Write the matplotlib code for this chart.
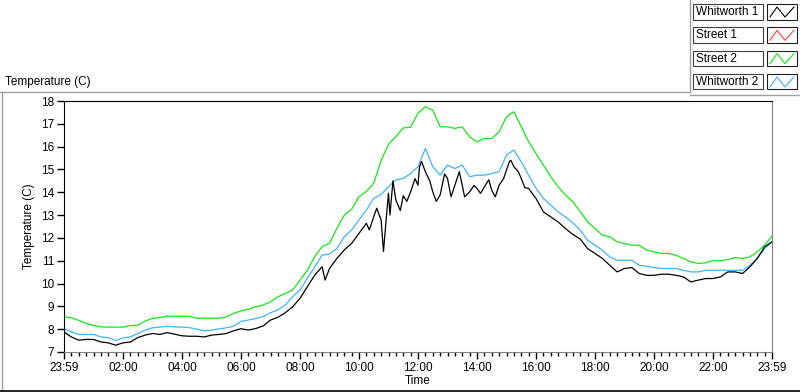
import numpy as np
import matplotlib.pyplot as plt
from matplotlib.patches import Rectangle
from matplotlib.ticker import MultipleLocator

plt.rcParams['font.family'] = ['Liberation Sans', 'DejaVu Sans']

# hours after 23:59, 15 min steps
hours = np.arange(0, 24.01, 0.25)

street2 = [8.54, 8.50, 8.39, 8.25, 8.17, 8.10, 8.09, 8.09, 8.09, 8.16, 8.17, 8.36,
           8.47, 8.51, 8.57, 8.57, 8.57, 8.57, 8.48, 8.48, 8.48, 8.48, 8.54, 8.69,
           8.80, 8.87, 8.98, 9.06, 9.20, 9.42, 9.57, 9.72, 10.15, 10.59, 11.18, 11.62,
           11.76, 12.42, 13.00, 13.25, 13.81, 14.03, 14.40, 15.40, 16.10, 16.44, 16.82, 16.85,
           17.46, 17.75, 17.60, 16.87, 16.87, 16.80, 16.87, 16.43, 16.21, 16.36, 16.36, 16.65,
           17.31, 17.53, 16.87, 16.21, 15.70, 15.19, 14.68, 14.24, 13.88, 13.58, 13.15, 12.70,
           12.41, 12.12, 12.05, 11.83, 11.76, 11.68, 11.68, 11.46, 11.39, 11.32, 11.32, 11.24,
           11.10, 10.95, 10.88, 10.91, 11.00, 11.00, 11.05, 11.14, 11.10, 11.17, 11.39, 11.68,
           12.08]

whitworth2 = [8.03, 7.88, 7.77, 7.77, 7.77, 7.66, 7.63, 7.50, 7.62, 7.66, 7.81, 7.96,
              8.06, 8.09, 8.13, 8.10, 8.09, 8.07, 8.00, 7.93, 7.96, 8.01, 8.06, 8.13,
              8.34, 8.40, 8.47, 8.55, 8.72, 8.84, 9.06, 9.42, 9.72, 10.23, 10.74, 11.25,
              11.29, 11.54, 12.05, 12.35, 12.79, 13.22, 13.74, 13.90, 14.25, 14.54, 14.61, 14.82,
              15.12, 15.92, 15.12, 14.75, 15.19, 15.04, 15.19, 14.68, 14.75, 14.75, 14.82, 14.90,
              15.63, 15.85, 15.34, 14.75, 14.17, 13.73, 13.44, 13.14, 12.92, 12.66, 12.34, 11.90,
              11.68, 11.46, 11.17, 11.02, 11.02, 11.02, 10.80, 10.76, 10.70, 10.66, 10.66, 10.66,
              10.58, 10.51, 10.51, 10.58, 10.58, 10.58, 10.58, 10.58, 10.58, 10.80, 11.10, 11.53,
              11.83]

whitworth1 = [7.88, 7.66, 7.52, 7.55, 7.55, 7.44, 7.40, 7.30, 7.40, 7.44, 7.63, 7.74,
              7.81, 7.77, 7.85, 7.78, 7.71, 7.69, 7.69, 7.66, 7.74, 7.77, 7.81, 7.93,
              8.02, 7.96, 8.03, 8.14, 8.40, 8.52, 8.72, 8.98, 9.35, 9.86, 10.37, 10.74,
              10.66, 11.10, 11.47, 11.76, 12.20, 12.64, 12.93, 12.79, 13.96, 13.66, 13.85, 14.02,
              14.31, 14.90, 14.02, 13.88, 14.61, 14.31, 14.31, 14.02, 14.17, 14.24, 14.09, 14.31,
              14.97, 15.12, 14.61, 14.17, 13.73, 13.14, 12.92, 12.70, 12.41, 12.15, 11.95, 11.53,
              11.32, 11.10, 10.80, 10.51, 10.66, 10.70, 10.44, 10.36, 10.36, 10.41, 10.41, 10.36,
              10.29, 10.07, 10.15, 10.22, 10.22, 10.29, 10.51, 10.51, 10.44, 10.73, 11.10, 11.61,
              11.83]

# short spikes of the Whitworth 1 sensor, read between the 15 min points
spike_hours = [8.85, 10.35, 10.60, 10.83, 10.92, 11.05, 11.15, 11.40, 11.62, 11.90,
               12.05, 12.12, 12.40, 12.62, 12.90, 13.12, 13.40, 13.58, 13.90, 14.12,
               14.40, 14.62, 14.90, 15.10, 15.15, 15.40, 15.62, 15.90]
spike_vals = [10.15, 12.35, 13.30, 11.40, 12.80, 13.00, 14.50, 13.20, 13.60, 14.60,
              15.10, 15.35, 14.50, 13.60, 14.80, 13.80, 14.90, 13.80, 14.30, 13.95,
              14.55, 13.80, 14.60, 15.35, 15.40, 14.90, 14.20, 13.90]

names = ['Whitworth 1', 'Street 1', 'Street 2', 'Whitworth 2']
colors = ['#000000', '#ff4040', '#14e614', '#3cb4ff']

tick_hours = [0, 2, 4, 6, 8, 10, 12, 14, 16, 18, 20, 22, 24]
tick_labels = ['23:59', '02:00', '04:00', '06:00', '08:00', '10:00', '12:00',
               '14:00', '16:00', '18:00', '20:00', '22:00', '23:59']

# merge spikes into the black series
h1 = np.concatenate([hours, spike_hours])
v1 = np.concatenate([whitworth1, spike_vals])
order = np.argsort(h1)
h1, v1 = h1[order], v1[order]

fig = plt.figure(figsize=(8, 3.92), dpi=100)

# background frame in pixel coords
bg = fig.add_axes([0, 0, 1, 1])
bg.set_xlim(0, 800)
bg.set_ylim(392, 0)
bg.axis('off')
bg.plot([0, 690], [92, 92], color='#a0a0a0', lw=1)
bg.plot([690, 690], [0, 92], color='#a0a0a0', lw=1)
bg.plot([690, 800], [95, 95], color='#a0a0a0', lw=1)
bg.plot([2, 2], [92, 392], color='#a0a0a0', lw=1)
bg.plot([0, 800], [390.5, 390.5], color='black', lw=1.2)
bg.text(5, 82, 'Temperature (C)', fontsize=8.5, va='center', ha='left')

# legend boxes
for i, (nm, c) in enumerate(zip(names, colors)):
    y0 = 4 + i * 23.3
    bg.add_patch(Rectangle((693, y0), 70, 15.5, fill=False, ec='#404040', lw=0.8))
    bg.text(696, y0 + 8, nm, fontsize=8.5, va='center', ha='left')
    bg.add_patch(Rectangle((767, y0), 30, 15.5, fill=False, ec='#202020', lw=0.8))
    bg.plot([770, 777, 785, 794], [y0 + 13, y0 + 3, y0 + 13, y0 + 3], color=c, lw=0.8)

ax = fig.add_axes([64 / 800, 1 - 352 / 392, 708 / 800, 251 / 392])
ax.plot(hours, street2, color=colors[2], lw=0.9)
ax.plot(hours, whitworth2, color=colors[3], lw=0.9)
ax.plot(h1, v1, color=colors[0], lw=0.9)

ax.set_xlim(0, 24)
ax.set_ylim(7, 18)
ax.set_xticks(tick_hours)
ax.set_xticklabels(tick_labels)
ax.xaxis.set_minor_locator(MultipleLocator(0.25))
ax.set_yticks(range(7, 19))
ax.tick_params(axis='both', which='major', direction='out', length=5, width=1,
               labelsize=8.5, pad=2)
ax.tick_params(axis='x', which='minor', direction='out', length=3, width=1)
ax.spines['top'].set_color('black')
ax.spines['left'].set_color('black')
ax.spines['right'].set_color('#808080')
ax.spines['bottom'].set_color('#808080')
ax.set_xlabel('Time', fontsize=8.5, labelpad=1)
ax.set_ylabel('Temperature (C)', fontsize=8.5, labelpad=4)

fig.savefig('out.png', dpi=100)
